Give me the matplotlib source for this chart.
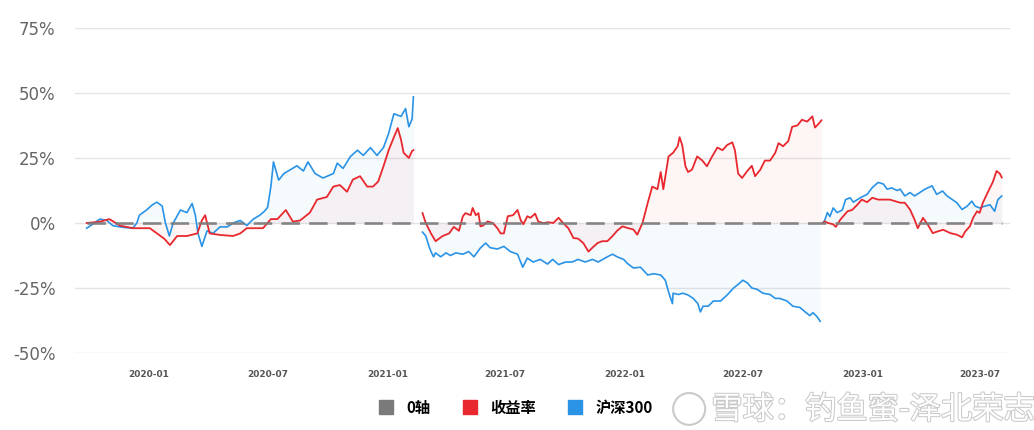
import pandas as pd
import matplotlib
matplotlib.use("Agg")
import matplotlib.pyplot as plt
import matplotlib.dates as mdates
import matplotlib.patheffects as pe
from matplotlib.lines import Line2D
from matplotlib.patches import Ellipse

plt.rcParams['font.family'] = ['Noto Sans CJK SC', 'DejaVu Sans']

# 收益率 / 沪深300, three holding periods, each restarting from 0
red1_dates = ["2019-09-27", "2019-10-17", "2019-11-01", "2019-11-17", "2019-12-07", "2020-01-02",
              "2020-01-13", "2020-01-24", "2020-02-02", "2020-02-13", "2020-02-28", "2020-03-15",
              "2020-03-22", "2020-03-27", "2020-04-03", "2020-04-19", "2020-05-09", "2020-05-20",
              "2020-05-30", "2020-06-09", "2020-06-24", "2020-07-06", "2020-07-16", "2020-07-29",
              "2020-08-09", "2020-08-20", "2020-09-04", "2020-09-15", "2020-09-30", "2020-10-10",
              "2020-10-20", "2020-10-31", "2020-11-09", "2020-11-20", "2020-12-01", "2020-12-10",
              "2020-12-18", "2020-12-26", "2021-01-03", "2021-01-11", "2021-01-17", "2021-01-22",
              "2021-01-26", "2021-02-03", "2021-02-08", "2021-02-10"]
red1 = [0, 0.5, 1.5, -1, -2, -2, -4, -6, -8.5, -5, -5, -4, 1, 3, -4, -4.6, -5, -4, -2, -2,
        -2, 1.5, 1.5, 5, 0.5, 1, 4, 9, 10, 14, 14.6, 12, 16.7, 18, 14, 14, 16, 21.8, 28, 33,
        36.5, 32, 27, 25, 27.7, 28]

blue1_dates = ["2019-09-27", "2019-10-09", "2019-10-17", "2019-10-28", "2019-11-06", "2019-11-17",
               "2019-11-27", "2019-12-07", "2019-12-13", "2019-12-17", "2019-12-28", "2020-01-06",
               "2020-01-13", "2020-01-21", "2020-01-26", "2020-02-01", "2020-02-07", "2020-02-18",
               "2020-02-28", "2020-03-07", "2020-03-12", "2020-03-16", "2020-03-22", "2020-03-30",
               "2020-04-08", "2020-04-19", "2020-04-30", "2020-05-09", "2020-05-20", "2020-05-30",
               "2020-06-09", "2020-06-19", "2020-06-26", "2020-07-01", "2020-07-06", "2020-07-10",
               "2020-07-18", "2020-07-26", "2020-08-05", "2020-08-15", "2020-08-25", "2020-09-01",
               "2020-09-12", "2020-09-24", "2020-10-10", "2020-10-16", "2020-10-25", "2020-11-05",
               "2020-11-16", "2020-11-25", "2020-12-06", "2020-12-16", "2020-12-26", "2021-01-03",
               "2021-01-11", "2021-01-22", "2021-01-29", "2021-02-03", "2021-02-08", "2021-02-10"]
blue1 = [-2, 0, 1.5, 1, -1, -1.5, -1.8, -2, 0, 3, 5, 7, 8, 6.5, 0, -5, 0, 5, 4, 7.5,
         3, -4, -9, -3, -4, -1.5, -1.5, 0, 1, -1, 1.5, 3, 4.5, 6, 14, 23.5, 16.5, 19, 20.5, 22,
         20, 23.5, 19, 17.3, 19, 23, 21, 25.5, 28, 26, 29, 26, 29, 34.5, 42, 41, 44, 37, 40, 48.5]

red2_dates = ["2021-02-24", "2021-03-01", "2021-03-09", "2021-03-16", "2021-03-27", "2021-04-06",
              "2021-04-13", "2021-04-21", "2021-04-27", "2021-05-01", "2021-05-09", "2021-05-12",
              "2021-05-17", "2021-05-21", "2021-05-24", "2021-05-28", "2021-06-04", "2021-06-12",
              "2021-06-19", "2021-06-24", "2021-06-29", "2021-07-05", "2021-07-13", "2021-07-20",
              "2021-07-25", "2021-07-29", "2021-08-04", "2021-08-09", "2021-08-16", "2021-08-21",
              "2021-08-29", "2021-09-05", "2021-09-13", "2021-09-21", "2021-09-28", "2021-10-06",
              "2021-10-14", "2021-10-21", "2021-10-29", "2021-11-06", "2021-11-12", "2021-11-20",
              "2021-11-27", "2021-12-05", "2021-12-13", "2021-12-20", "2021-12-28", "2022-01-06",
              "2022-01-14", "2022-01-20", "2022-01-28", "2022-02-05", "2022-02-12", "2022-02-20",
              "2022-02-25", "2022-03-01", "2022-03-09", "2022-03-16", "2022-03-23", "2022-03-26",
              "2022-03-30", "2022-04-04", "2022-04-08", "2022-04-14", "2022-04-22", "2022-04-30",
              "2022-05-07", "2022-05-15", "2022-05-23", "2022-05-31", "2022-06-07", "2022-06-15",
              "2022-06-19", "2022-06-24", "2022-06-30", "2022-07-08", "2022-07-15", "2022-07-20",
              "2022-07-28", "2022-08-04", "2022-08-12", "2022-08-20", "2022-08-25", "2022-09-01",
              "2022-09-09", "2022-09-15", "2022-09-23", "2022-09-30", "2022-10-08", "2022-10-16",
              "2022-10-20", "2022-10-25", "2022-10-30"]
red2 = [3.8, 0, -4, -7, -5, -4, -1.5, -3, 2.6, 3.8,
        3, 5.8, 3, 3.8, -1.3, -1, 0.6, 0, -2, -4,
        -4, 2.6, 3, 5, 1, -0.5, 2.6, 2, 3.6, 0.5,
        0, 0.3, 0, 2, 0, -2, -5.8, -6, -7.7, -11,
        -9.5, -7.7, -7, -7, -5, -3, -1.3, -2, -2.5, -4.5,
        0, 7.7, 14, 13, 19.6, 13, 25.6, 27, 29.5, 33,
        30, 21.8, 19.6, 20.5, 25.6, 24, 21.8, 25.6, 29, 28,
        30, 31, 28, 19, 17.3, 20, 22, 18, 20.5, 24,
        24, 27, 30.7, 29.5, 31.5, 37, 37.5, 39.7, 39, 41,
        36.7, 38, 39.5]

blue2_dates = ["2021-02-24", "2021-03-01", "2021-03-06", "2021-03-09", "2021-03-13", "2021-03-16",
               "2021-03-24", "2021-04-01", "2021-04-08", "2021-04-16", "2021-04-27", "2021-05-06",
               "2021-05-14", "2021-05-24", "2021-06-01", "2021-06-08", "2021-06-19", "2021-06-29",
               "2021-07-09", "2021-07-20", "2021-07-28", "2021-08-04", "2021-08-13", "2021-08-24",
               "2021-09-04", "2021-09-12", "2021-09-21", "2021-10-02", "2021-10-12", "2021-10-21",
               "2021-11-01", "2021-11-12", "2021-11-21", "2021-12-05", "2021-12-13", "2021-12-20",
               "2021-12-30", "2022-01-05", "2022-01-14", "2022-01-25", "2022-02-05", "2022-02-14",
               "2022-02-25", "2022-03-04", "2022-03-09", "2022-03-15", "2022-03-16", "2022-03-24",
               "2022-03-31", "2022-04-08", "2022-04-16", "2022-04-23", "2022-04-27", "2022-05-01",
               "2022-05-09", "2022-05-17", "2022-05-28", "2022-06-07", "2022-06-17", "2022-06-27",
               "2022-07-01", "2022-07-08", "2022-07-15", "2022-07-23", "2022-08-01", "2022-08-12",
               "2022-08-20", "2022-08-27", "2022-09-07", "2022-09-16", "2022-09-27", "2022-10-04",
               "2022-10-12", "2022-10-17", "2022-10-23", "2022-10-28"]
blue2 = [-3.5, -5, -9, -11, -13, -11.5, -13, -11.5, -12.5, -11.5,
         -12, -11, -13, -9.6, -7.7, -9.5, -10, -9, -11, -12,
         -17, -13.5, -15, -14, -15.8, -14, -16, -15, -15, -14,
         -15, -14, -15, -13, -12, -13, -14, -15.6, -17.3, -17,
         -20, -19.5, -20, -22, -26.5, -31, -27, -27.5, -27, -27.7,
         -29, -31, -34.2, -32, -32, -30, -30, -27.7, -25, -23,
         -22, -23, -25, -25.5, -27, -27.5, -29, -29, -30, -32,
         -32.5, -34, -35.6, -34.5, -36, -37.8]

red3_dates = ["2022-11-01", "2022-11-04", "2022-11-09", "2022-11-17", "2022-11-21", "2022-11-28",
              "2022-12-09", "2022-12-16", "2022-12-24", "2022-12-31", "2023-01-08", "2023-01-16",
              "2023-01-25", "2023-02-05", "2023-02-12", "2023-02-20", "2023-02-28", "2023-03-07",
              "2023-03-15", "2023-03-22", "2023-03-27", "2023-04-04", "2023-04-11", "2023-04-19",
              "2023-04-27", "2023-05-05", "2023-05-16", "2023-05-26", "2023-06-03", "2023-06-08",
              "2023-06-15", "2023-06-20", "2023-06-26", "2023-06-30", "2023-07-05", "2023-07-11",
              "2023-07-16", "2023-07-20", "2023-07-26", "2023-07-31", "2023-08-03"]
red3 = [0, 0.6, 0, -0.5, -1.5, 1.3, 4.5, 5, 7, 9, 8, 9.7, 9, 9, 9, 8.4, 7.8, 7.8, 5.2, 1.3,
        -2, 2, -0.5, -3.9, -3.2, -2.6, -3.9, -4.5, -5.5, -3.2, -1.3, 2, 4.5, 3.9, 7.8, 11,
        13.6, 15.6, 20, 19, 17.5]

blue3_dates = ["2022-11-01", "2022-11-04", "2022-11-08", "2022-11-12", "2022-11-17", "2022-11-23",
               "2022-12-01", "2022-12-06", "2022-12-13", "2022-12-18", "2022-12-24", "2022-12-31",
               "2023-01-08", "2023-01-16", "2023-01-25", "2023-02-02", "2023-02-08", "2023-02-15",
               "2023-02-23", "2023-02-28", "2023-03-07", "2023-03-15", "2023-03-22", "2023-03-30",
               "2023-04-07", "2023-04-18", "2023-04-25", "2023-05-04", "2023-05-11", "2023-05-19",
               "2023-05-26", "2023-06-03", "2023-06-11", "2023-06-18", "2023-06-23", "2023-06-30",
               "2023-07-08", "2023-07-16", "2023-07-23", "2023-07-28", "2023-08-03"]
blue3 = [0, 1, 4, 2.5, 5.8, 4, 5, 9, 9.7, 8, 9, 10, 11, 13.6, 15.6, 15, 13, 13.5, 12.5, 13,
         10.4, 11.7, 10.4, 11.7, 13, 14.3, 11, 12.3, 10.4, 9, 7.8, 5.2, 6.5, 8.4, 6.5, 5.8,
         6.5, 7, 4.5, 9, 10.4]

zero_dates = ["2019-09-27", "2023-08-03"]
y_ticks = [-50, -25, 0, 25, 50, 75]
x_ticks = ["2020-01-01", "2020-07-01", "2021-01-01", "2021-07-01",
           "2022-01-01", "2022-07-01", "2023-01-01", "2023-07-01"]
legend_labels = ["0轴", "收益率", "沪深300"]

RED = "#e8282e"
BLUE = "#2a93e6"
GREY = "#7a7a7a"

fig = plt.figure(figsize=(10.34, 4.30), dpi=100)
ax = fig.add_axes([0.0725, 0.179, 0.9045, 0.756])

red_segments = [(red1_dates, red1), (red2_dates, red2), (red3_dates, red3)]
blue_segments = [(blue1_dates, blue1), (blue2_dates, blue2), (blue3_dates, blue3)]

for dates, vals in blue_segments:
    d = pd.to_datetime(dates)
    ax.fill_between(d, 0, vals, color=BLUE, alpha=0.045, lw=0, zorder=1)
    ax.plot(d, vals, color=BLUE, lw=1.2, zorder=3)

for dates, vals in red_segments:
    d = pd.to_datetime(dates)
    ax.fill_between(d, 0, vals, color=RED, alpha=0.045, lw=0, zorder=1)
    ax.plot(d, vals, color=RED, lw=1.3, zorder=4)

ax.plot(pd.to_datetime(zero_dates), [0, 0], color=GREY, lw=1.9,
        linestyle=(0, (7, 3.5)), zorder=5, alpha=0.9)

ax.set_xlim(pd.Timestamp("2019-09-09"), pd.Timestamp("2023-08-16"))
ax.set_ylim(-50, 75)
ax.set_yticks(y_ticks)
ax.set_yticklabels([f"{v}%" for v in y_ticks])
ax.set_xticks(pd.to_datetime(x_ticks))
ax.xaxis.set_major_formatter(mdates.DateFormatter("%Y-%m"))

ax.grid(axis="y", color="#e4e4e4", lw=1)
ax.set_axisbelow(True)
for s in ax.spines.values():
    s.set_visible(False)
ax.tick_params(axis="y", length=0, pad=14, labelsize=12, labelcolor="#666666")
ax.tick_params(axis="x", length=0, pad=12, labelsize=6.5, labelcolor="#555555")
for lab in ax.get_yticklabels():
    lab.set_family(["DejaVu Sans"])
for lab in ax.get_xticklabels():
    lab.set_family(["DejaVu Sans"])
    lab.set_fontweight("bold")

handles = [Line2D([], [], marker="s", ls="", ms=10, color=c) for c in (GREY, RED, BLUE)]
fig.legend(handles, legend_labels, loc="center", bbox_to_anchor=(0.495, 0.052),
           ncol=3, frameon=False, handletextpad=0.3, columnspacing=1.6,
           prop={"family": ["Noto Sans CJK SC", "DejaVu Sans"], "size": 11, "weight": "bold"})

# watermark
fig.text(0.688, 0.047, "雪球：钓鱼蜜-泽北荣志", fontsize=22.5, color="white",
         ha="left", va="center", family=["Noto Sans CJK SC", "DejaVu Sans"],
         path_effects=[pe.withStroke(linewidth=1.5, foreground="#cacaca")])
logo = Ellipse((0.6665, 0.049), 0.031, 0.074, transform=fig.transFigure, fill=False,
               ec="#cacaca", lw=1.5)
fig.patches.append(logo)

fig.savefig("out.png", dpi=100)
